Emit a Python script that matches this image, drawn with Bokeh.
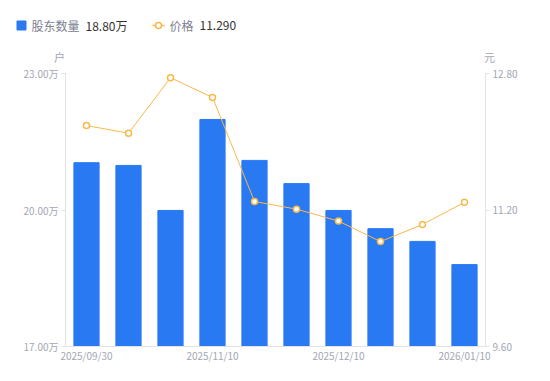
from bokeh.plotting import figure
from bokeh.models import Range1d, LinearAxis, FixedTicker, ColumnDataSource
from bokeh.layouts import column
from bokeh.core.properties import value
from bokeh.embed import file_html
from bokeh.resources import INLINE

dates = ["2025/09/30", "2025/10/10", "2025/10/20", "2025/11/10", "2025/11/20",
         "2025/11/30", "2025/12/10", "2025/12/20", "2025/12/31", "2026/01/10"]
holders = [21.04, 20.98, 19.99, 21.99, 21.09, 20.58, 19.99, 19.59, 19.31, 18.80]  # 万户
price = [12.19, 12.10, 12.75, 12.52, 11.30, 11.21, 11.07, 10.83, 11.03, 11.29]
shown_dates = ["2025/09/30", "2025/11/10", "2025/12/10", "2026/01/10"]
left_ticks = [17, 20, 23]
right_ticks = [9.6, 11.2, 12.8]
series_names = ["股东数量", "价格"]
units = ["户", "元"]

FONT = "Noto Sans CJK SC"
BLUE = "#2979f3"
ORANGE = "#f8b84a"
TICK_COLOR = "#a3a6b4"
AXIS_LINE = "#e3e3e3"

W = 542
HEAD = 65          # header strip height (legend + unit labels)
H = 373 - HEAD     # chart height
FL = 65

# ---------- header strip ----------
hd = figure(width=W, height=HEAD, x_range=Range1d(0, W), y_range=Range1d(HEAD, 0),
            output_backend="svg", toolbar_location=None, min_border=0)
hd.frame_align = False
hd.axis.visible = False
hd.grid.visible = False
hd.outline_line_color = None

hd.scatter([21], [25], marker="square", size=9, color=BLUE)
hd.line([152, 164], [25, 25], line_color=ORANGE, line_width=1.5)
hd.scatter([158], [25], size=6, line_color=ORANGE, line_width=1.5, fill_color="white")

def htext(xs, ys, texts, color, size, align="left"):
    hd.text(x=xs, y=ys, text=texts, text_color=color, text_font=value(FONT),
            text_font_size=size, text_align=align, text_baseline="middle")

htext([31, 169], [25, 25], series_names, "#7d8090", "12px")
htext([85, 199], [25, 25], [f"{holders[-1]:.2f}万", f"{price[-1]:.3f}"], "#333333", "12px")
htext([59, 489], [56, 56], units, TICK_COLOR, "11px", align="center")

# ---------- chart ----------
idx = list(range(len(dates)))
p = figure(width=W, height=H, x_range=Range1d(-0.5, len(dates) - 0.5), y_range=Range1d(17, 23),
           output_backend="svg", toolbar_location=None,
           min_border_left=FL, min_border_right=57, min_border_top=73 - HEAD, min_border_bottom=27)
p.frame_align = False
p.extra_y_ranges = {"price": Range1d(9.6, 12.8)}
p.outline_line_color = None
p.xgrid.grid_line_color = None
p.ygrid.grid_line_color = None
p.yaxis.visible = False
p.xaxis.visible = False

src = ColumnDataSource(dict(i=idx, d=dates, h=holders, pr=price))
p.vbar(x="i", top="h", bottom=17, width=0.6, color=BLUE, source=src)
p.line(x="i", y="pr", y_range_name="price", line_color=ORANGE, line_width=1, source=src)
p.scatter(x="i", y="pr", y_range_name="price", size=6, line_color=ORANGE, line_width=1.5,
          fill_color="white", source=src)

def style(ax, ticks, labels):
    ax.ticker = FixedTicker(ticks=ticks)
    ax.major_label_overrides = dict(zip(ticks, labels))
    ax.axis_line_color = AXIS_LINE
    ax.major_tick_line_color = AXIS_LINE
    ax.major_tick_in = 0
    ax.major_tick_out = 4
    ax.minor_tick_line_color = None
    ax.major_label_text_color = TICK_COLOR
    ax.major_label_text_font = FONT
    ax.major_label_text_font_size = "10px"
    ax.major_label_standoff = 3

la = LinearAxis()
style(la, left_ticks, [f"{t:.2f}万" for t in left_ticks])
p.add_layout(la, "left")
ra = LinearAxis(y_range_name="price")
style(ra, right_ticks, [f"{t:.2f}" for t in right_ticks])
p.add_layout(ra, "right")

shown_idx = [dates.index(d) for d in shown_dates]
ba = LinearAxis()
style(ba, shown_idx, shown_dates)
ba.major_tick_line_color = None
ba.major_tick_out = 0
ba.major_label_standoff = 1
p.add_layout(ba, "below")

layout = column(hd, p, spacing=0)
open("out.html", "w").write(file_html(layout, INLINE))
